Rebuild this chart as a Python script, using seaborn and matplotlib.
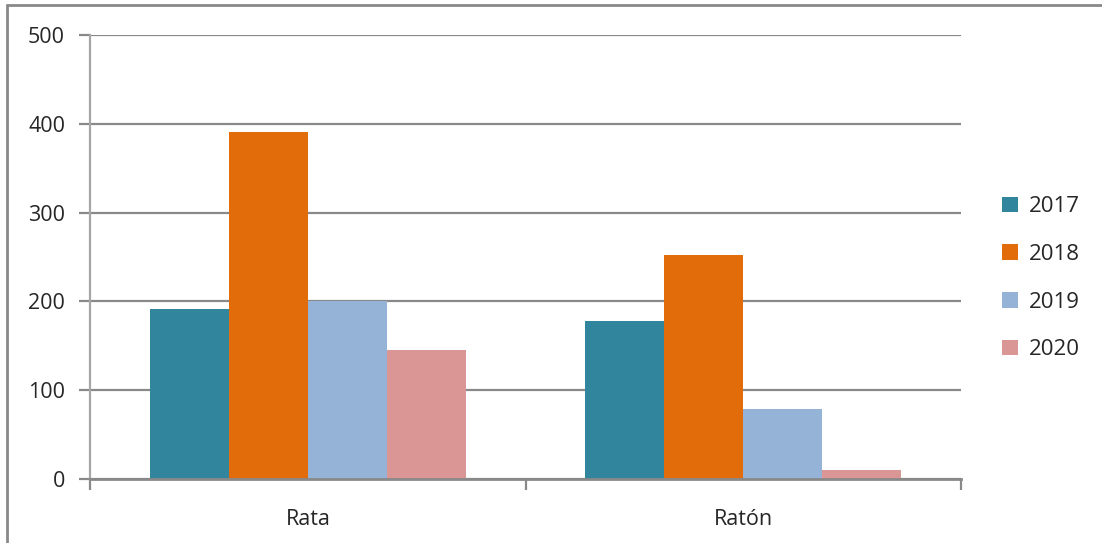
import matplotlib.pyplot as plt
import seaborn as sns
import pandas as pd
from matplotlib.lines import Line2D

especies = ["Rata", "Ratón"]
anios = ["2017", "2018", "2019", "2020"]
rata = [191, 391, 200, 145]
raton = [178, 252, 79, 10]
colores = ["#31859C", "#E36C0A", "#95B3D7", "#D99694"]

df = pd.DataFrame({
    "especie": [e for e in especies for _ in anios],
    "anio": anios * 2,
    "valor": rata + raton,
})

sns.set_style("white")
plt.rcParams["font.family"] = ["Open Sans", "DejaVu Sans"]

fig = plt.figure(figsize=(11.02, 5.43), dpi=100)
ax = fig.add_axes([0.0817, 0.118, 0.7905, 0.8175])

sns.barplot(
    data=df, x="especie", y="valor", hue="anio",
    palette=colores, width=0.726, saturation=1, ax=ax,
    edgecolor="none", errorbar=None,
)

ax.set_ylim(0, 500)
ax.set_xlim(-0.5, 1.5)
ax.set_yticks(range(0, 501, 100))
ax.yaxis.grid(True, color="#898989", linewidth=1.6)
ax.set_axisbelow(True)
ax.set_xlabel("")
ax.set_ylabel("")

for s in ["top", "right"]:
    ax.spines[s].set_visible(False)
ax.spines["left"].set_color("#A6A6A6")
ax.spines["left"].set_linewidth(1.6)
ax.spines["bottom"].set_color("#898989")
ax.spines["bottom"].set_linewidth(2)

ax.tick_params(axis="y", length=8, width=1.6, color="#898989", labelsize=15.5, pad=10, left=True)
ax.set_xticks([0, 1])
ax.set_xticklabels(especies, fontsize=15.5)
ax.tick_params(axis="x", length=0, pad=22)
# marcas en los limites de categoria
ax.set_xticks([-0.5, 0.5, 1.5], minor=True)
ax.tick_params(axis="x", which="minor", length=8, width=1.6, color="#898989", bottom=True)

ax.legend(
    loc="center left", bbox_to_anchor=(1.024, 0.452), frameon=False,
    fontsize=16, handlelength=0.7, handleheight=0.7, handletextpad=0.5,
    labelspacing=1.2,
)

fig.add_artist(Line2D([7 / 1102, 1], [1 - 5 / 543, 1 - 5 / 543],
                      transform=fig.transFigure, color="#898989", linewidth=2))
fig.add_artist(Line2D([7 / 1102, 7 / 1102], [0, 1 - 5 / 543],
                      transform=fig.transFigure, color="#898989", linewidth=2))

fig.savefig("out.png", dpi=100)
plt.close(fig)
